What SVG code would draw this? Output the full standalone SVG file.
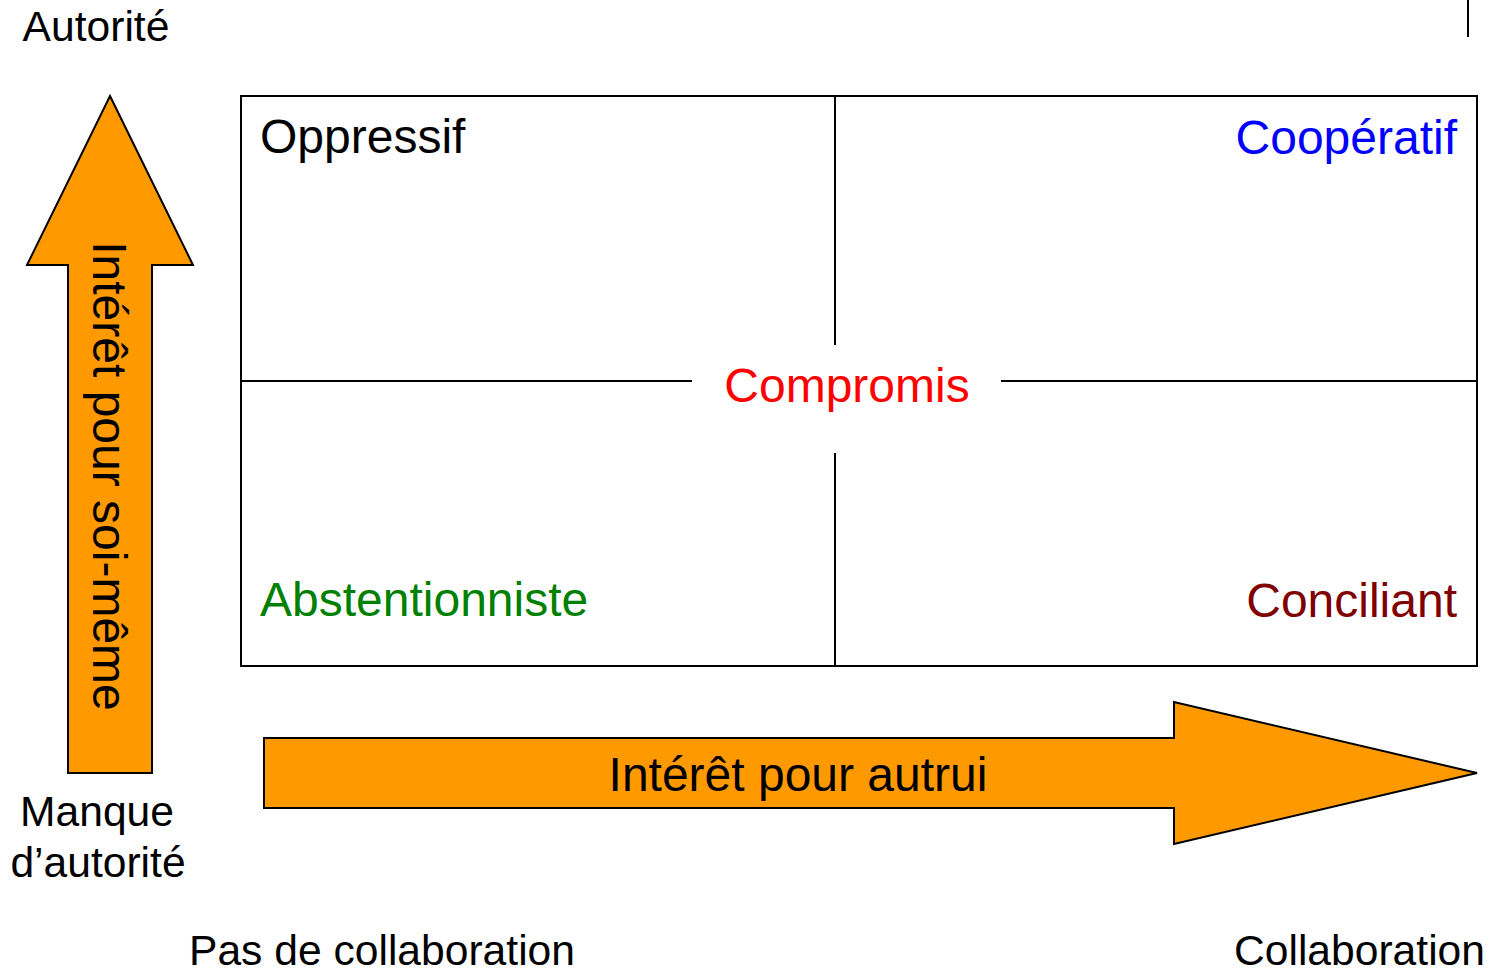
<svg xmlns="http://www.w3.org/2000/svg" width="1488" height="972" viewBox="0 0 1488 972">
<style>
text{font-family:"Liberation Sans",Arial,sans-serif}
.ax{font-size:42.6px;fill:#000}
.q{font-size:48px}
.ln{stroke:#000;stroke-width:2;fill:none}
.arr{fill:#FF9900;stroke:#000;stroke-width:2;stroke-linejoin:miter}
</style>
<rect width="1488" height="972" fill="#fff"/>
<line x1="1468" y1="0" x2="1468" y2="37" class="ln"/>
<g id="grid">
<rect x="241" y="96" width="1236" height="570" class="ln"/>
<line x1="835" y1="96" x2="835" y2="345" class="ln"/>
<line x1="835" y1="453" x2="835" y2="666" class="ln"/>
<line x1="241" y1="381" x2="692" y2="381" class="ln"/>
<line x1="1001" y1="381" x2="1477" y2="381" class="ln"/>
</g>
<g id="oppressif"><text x="260" y="153" class="q" fill="#000">Oppressif</text></g>
<g id="cooperatif"><text x="1457" y="154" class="q" fill="#0000FF" text-anchor="end">Coopératif</text></g>
<g id="compromis"><text x="847" y="402" class="q" fill="#FF0000" text-anchor="middle">Compromis</text></g>
<g id="abstentionniste"><text x="260" y="616" class="q" fill="#008000">Abstentionniste</text></g>
<g id="conciliant"><text x="1457" y="617" class="q" fill="#800000" text-anchor="end">Conciliant</text></g>
<g id="arrow-up">
<polygon class="arr" points="110,96 193,265 152,265 152,773 68,773 68,265 27,265"/>
<text class="q" fill="#000" text-anchor="middle" transform="translate(93,476) rotate(90)">Intérêt pour soi-même</text>
</g>
<g id="arrow-right">
<polygon class="arr" points="264,738 1174,738 1174,702 1477,773 1174,844 1174,808 264,808"/>
<text x="798" y="791" class="q" fill="#000" text-anchor="middle">Intérêt pour autrui</text>
</g>
<g id="labels">
<text x="96" y="41" class="ax" text-anchor="middle">Autorité</text>
<text x="97" y="826" class="ax" text-anchor="middle">Manque</text>
<text x="98" y="877" class="ax" text-anchor="middle">d’autorité</text>
<text x="382" y="965" class="ax" text-anchor="middle">Pas de collaboration</text>
<text x="1485" y="965" class="ax" text-anchor="end">Collaboration</text>
</g>
</svg>
